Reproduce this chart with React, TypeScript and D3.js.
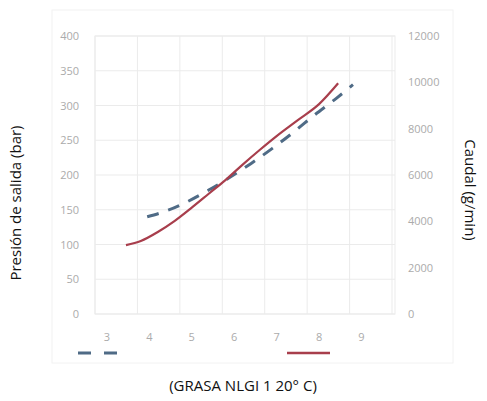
import React from "react";
import * as d3 from "d3";

const xTicks = [3, 4, 5, 6, 7, 8, 9];
const yLeftTicks = [0, 50, 100, 150, 200, 250, 300, 350, 400];
const yRightTicks = [0, 2000, 4000, 6000, 8000, 10000, 12000];
const gridX = [2.72, 3.72, 4.72, 5.72, 6.72, 7.72, 8.72, 9.72];

const presionX = [3.45, 3.8, 4.2, 4.6, 5.0, 5.4, 5.8, 6.2, 6.6, 7.0, 7.5, 8.0, 8.45];
const presionY = [99, 105, 118, 134, 153, 173, 193, 215, 236, 256, 279, 302, 332];

const caudalX = [3.95, 4.4, 4.9, 5.4, 5.9, 6.4, 6.9, 7.4, 7.9, 8.4, 8.8];
const caudalY = [4200, 4450, 4850, 5350, 5900, 6500, 7150, 7850, 8600, 9300, 9900];

const W = 487;
const H = 401;

export default function App() {
  const x = d3.scaleLinear().domain([2.72, 9.79]).range([95, 395]);
  const yL = d3.scaleLinear().domain([0, 400]).range([314, 36]);
  const yR = d3.scaleLinear().domain([0, 12000]).range([314, 36]);

  const presLine = d3
    .line<number>()
    .x((d, i) => x(presionX[i]))
    .y((d) => yL(d))
    .curve(d3.curveMonotoneX)(presionY) as string;
  const caudLine = d3
    .line<number>()
    .x((d, i) => x(caudalX[i]))
    .y((d) => yR(d))
    .curve(d3.curveMonotoneX)(caudalY) as string;

  const tickColor = "#ababab";
  const gridColor = "#ebebeb";
  const blue = "#4f6b86";
  const red = "#a83e4c";

  return (
    <svg
      width={W}
      height={H}
      style={{ position: "absolute", left: 0, top: 0, background: "#fff" }}
      fontFamily="'Open Sans', sans-serif"
    >
      <rect x={0} y={0} width={W} height={H} fill="#fff" />
      <rect x={52} y={10} width={401} height={353} fill="none" stroke="#f2f2f2" />
      {yLeftTicks.map((t) => (
        <line key={"gy" + t} x1={95} x2={395} y1={yL(t)} y2={yL(t)} stroke={gridColor} />
      ))}
      {gridX.map((g) => (
        <line key={"gx" + g} x1={x(g)} x2={x(g)} y1={36} y2={314} stroke={gridColor} />
      ))}
      <rect x={95} y={36} width={300} height={278} fill="none" stroke={gridColor} />
      {yLeftTicks.map((t) => (
        <text key={"l" + t} x={79} y={yL(t) + 4} textAnchor="end" fontSize={11} fill={tickColor}>
          {t}
        </text>
      ))}
      {yRightTicks.map((t) => (
        <text key={"r" + t} x={408} y={yR(t) + 4} textAnchor="start" fontSize={11} fill={tickColor}>
          {t}
        </text>
      ))}
      {xTicks.map((t) => (
        <text key={"x" + t} x={x(t)} y={341} textAnchor="middle" fontSize={11} fill={tickColor}>
          {t}
        </text>
      ))}
      <path d={caudLine} fill="none" stroke={blue} strokeWidth={3} strokeDasharray="12 10" />
      <path d={presLine} fill="none" stroke={red} strokeWidth={2.2} />
      <line x1={78} x2={118} y1={353} y2={353} stroke={blue} strokeWidth={3} strokeDasharray="13 13" />
      <line x1={287} x2={330} y1={353} y2={353} stroke={red} strokeWidth={2.5} />
      <text x={243} y={391} textAnchor="middle" fontSize={15} fill="#111">
        (GRASA NLGI 1 20° C)
      </text>
      <text transform={`translate(21,203) rotate(-90)`} textAnchor="middle" fontSize={15} fill="#111">
        Presión de salida (bar)
      </text>
      <text transform={`translate(465,190) rotate(90)`} textAnchor="middle" fontSize={15} fill="#111">
        Caudal (g/min)
      </text>
    </svg>
  );
}
